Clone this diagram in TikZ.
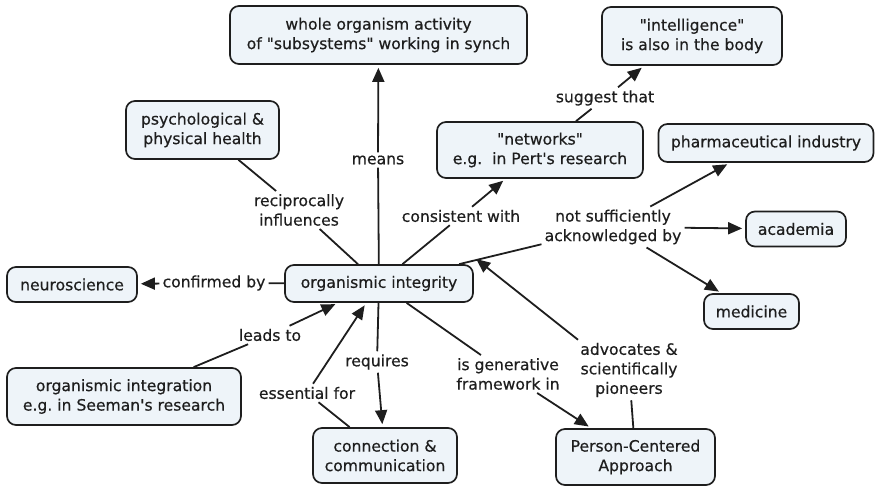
\documentclass[tikz,border=0pt]{standalone}
\usepackage{fontspec}
\setmainfont{DejaVu Sans}[FakeBold=0.5]
\usetikzlibrary{arrows.meta}
\definecolor{boxfill}{RGB}{238,244,249}
\definecolor{ink}{RGB}{30,30,30}
\newcommand{\dq}{\textquotedbl}
\begin{document}
\begin{tikzpicture}[x=1pt,y=-1pt,
  every node/.style={font=\fontsize{15.6}{19.5}\selectfont, text=ink, align=center},
  concept/.style={draw=ink, line width=1.7pt, rounded corners=9pt, fill=boxfill, inner sep=0pt},
  linkword/.style={inner sep=3pt},
  con/.style={draw=ink, line width=1.8pt},
  arr/.style={con, -{Triangle[length=14pt,width=12pt]}, shorten >=3pt},
]
\useasboundingbox (0,0) rectangle (876,487);

% concepts
\node[concept, minimum width=297pt, minimum height=58pt] (whole) at (378.5,35) {whole organism activity\\of \dq subsystems\dq{} working in synch};
\node[concept, minimum width=180pt, minimum height=58pt] (intel) at (692,36) {\dq intelligence\dq\\is also in the body};
\node[concept, minimum width=153pt, minimum height=58pt] (psych) at (202.5,130) {psychological \&\\physical health};
\node[concept, minimum width=206pt, minimum height=56pt] (networks) at (540,150) {\dq networks\dq\\e.g.\ \ in Pert\textquotesingle s research};
\node[concept, minimum width=215pt, minimum height=38pt] (pharma) at (766,143) {pharmaceutical industry};
\node[concept, minimum width=100pt, minimum height=35pt] (academia) at (796,229) {academia};
\node[concept, minimum width=130pt, minimum height=35pt] (neuro) at (72,284.5) {neuroscience};
\node[concept, minimum width=188pt, minimum height=37pt] (orgint) at (379,283.5) {organismic integrity};
\node[concept, minimum width=95pt, minimum height=35pt] (medicine) at (751.5,311.5) {medicine};
\node[concept, minimum width=234pt, minimum height=57pt] (integration) at (124,396.5) {organismic integration\\e.g.\ in Seeman\textquotesingle s research};
\node[concept, minimum width=144pt, minimum height=55pt] (connection) at (385,455.5) {connection \&\\communication};
\node[concept, minimum width=159pt, minimum height=56pt] (pca) at (635.5,457) {Person-Centered\\Approach};

% linking phrases
\node[linkword] (means) at (378,160) {means};
\node[linkword] (recip) at (299,210) {reciprocally\\influences};
\node[linkword] (consist) at (461,216) {consistent with};
\node[linkword] (suggest) at (605,98) {suggest that};
\node[linkword] (notsuff) at (613,227) {not sufficiently\\acknowledged by};
\node[linkword] (confirmed) at (214,283) {confirmed by};
\node[linkword] (leads) at (270,335) {leads to};
\node[linkword] (requires) at (377,362) {requires};
\node[linkword] (essential) at (307,393) {essential for};
\node[linkword] (generative) at (508,374) {is generative\\framework in};
\node[linkword] (advocates) at (629,370) {advocates \&\\scientifically\\pioneers};

% propositions
\draw[con] (orgint) -- (means);
\draw[arr] (means) -- (whole);

\draw[con] (orgint) -- (recip);
\draw[con] (recip) -- (psych);

\draw[con] (orgint) -- (consist);
\draw[arr] (consist) -- (networks);

\draw[con] (networks) -- (suggest);
\draw[arr] (suggest) -- ([xshift=-48pt]intel.south);

\draw[con] (orgint) -- (notsuff);
\draw[arr] (notsuff) -- (pharma);
\draw[arr] (notsuff) -- (academia);
\draw[arr] (notsuff) -- (medicine);

\draw[con] (orgint) -- (confirmed);
\draw[arr] (confirmed) -- (neuro);

\draw[con] (integration) -- (leads);
\draw[arr] (leads) -- (orgint);

\draw[con] (orgint) -- (requires);
\draw[arr] (requires) -- (connection);

\draw[con] (connection) -- (essential);
\draw[arr] (essential) -- (orgint);

\draw[con] (orgint) -- (generative);
\draw[arr] (generative) -- (pca);

\draw[con] (pca) -- (advocates);
\draw[arr] ([xshift=-51pt]advocates.north) -- ([yshift=7pt]orgint.north east);
\end{tikzpicture}
\end{document}
